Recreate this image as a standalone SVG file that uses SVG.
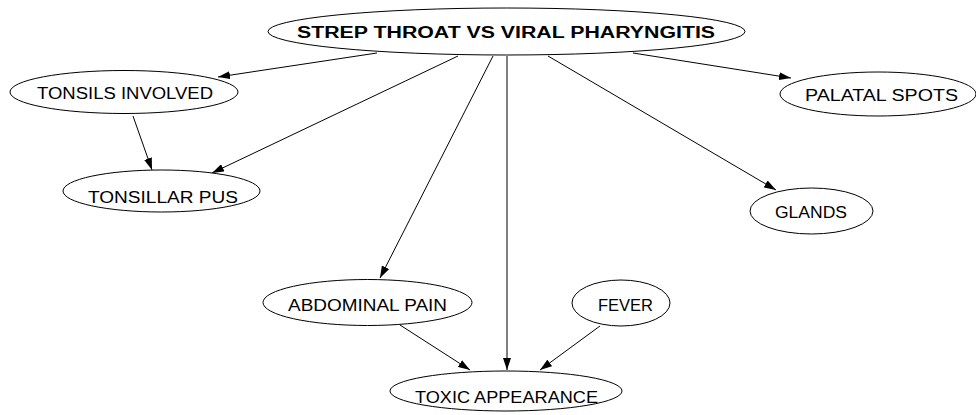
<svg xmlns="http://www.w3.org/2000/svg" width="976" height="415" viewBox="0 0 976 415">
<defs>
<marker id="arr" markerUnits="userSpaceOnUse" markerWidth="12" markerHeight="8" refX="12" refY="4" orient="auto">
<path d="M0,0 L12,4 L0,8 z" fill="#000"/>
</marker>
<style>
.n ellipse{fill:#fff;stroke:#000;stroke-width:1}
.n text{font-family:"Liberation Sans",Arial,sans-serif;font-size:16px;fill:#000}
.root text{font-weight:bold}
.e line{stroke:#000;stroke-width:1;marker-end:url(#arr)}
</style>
</defs>
<rect width="976" height="415" fill="#fff"/>
<g class="e" id="connectors">
<line x1="377" y1="53" x2="218" y2="77"/>
<line x1="458" y1="56" x2="212" y2="173"/>
<line x1="133" y1="116" x2="152" y2="170"/>
<line x1="493" y1="56" x2="380" y2="278"/>
<line x1="507" y1="56" x2="507" y2="370"/>
<line x1="548" y1="56" x2="776" y2="190"/>
<line x1="633" y1="53" x2="791" y2="78"/>
<line x1="400" y1="325" x2="470" y2="370"/>
<line x1="600" y1="326" x2="540" y2="370"/>
</g>
<g class="n root" id="strep-throat-vs-viral-pharyngitis">
<ellipse cx="506.5" cy="31.5" rx="238.5" ry="23.5"/>
<text x="297" y="38" textLength="418" lengthAdjust="spacingAndGlyphs">STREP THROAT VS VIRAL PHARYNGITIS</text>
</g>
<g class="n" id="tonsils-involved">
<ellipse cx="124" cy="92" rx="114" ry="21.5"/>
<text x="37" y="99" textLength="176" lengthAdjust="spacingAndGlyphs">TONSILS INVOLVED</text>
</g>
<g class="n" id="tonsillar-pus">
<ellipse cx="161.5" cy="191" rx="98.5" ry="21"/>
<text x="88" y="203" textLength="150" lengthAdjust="spacingAndGlyphs">TONSILLAR PUS</text>
</g>
<g class="n" id="palatal-spots">
<ellipse cx="878" cy="94" rx="98" ry="22"/>
<text x="805" y="101" textLength="153" lengthAdjust="spacingAndGlyphs">PALATAL SPOTS</text>
</g>
<g class="n" id="glands">
<ellipse cx="811.5" cy="211" rx="61.5" ry="23"/>
<text x="775" y="218" textLength="72" lengthAdjust="spacingAndGlyphs">GLANDS</text>
</g>
<g class="n" id="abdominal-pain">
<ellipse cx="367.5" cy="302.5" rx="104.5" ry="23"/>
<text x="288" y="311" textLength="159" lengthAdjust="spacingAndGlyphs">ABDOMINAL PAIN</text>
</g>
<g class="n" id="fever">
<ellipse cx="621" cy="303" rx="49" ry="23"/>
<text x="598" y="311" textLength="55" lengthAdjust="spacingAndGlyphs">FEVER</text>
</g>
<g class="n" id="toxic-appearance">
<ellipse cx="506" cy="391" rx="116" ry="20"/>
<text x="415" y="403" textLength="183" lengthAdjust="spacingAndGlyphs">TOXIC APPEARANCE</text>
</g>
</svg>
